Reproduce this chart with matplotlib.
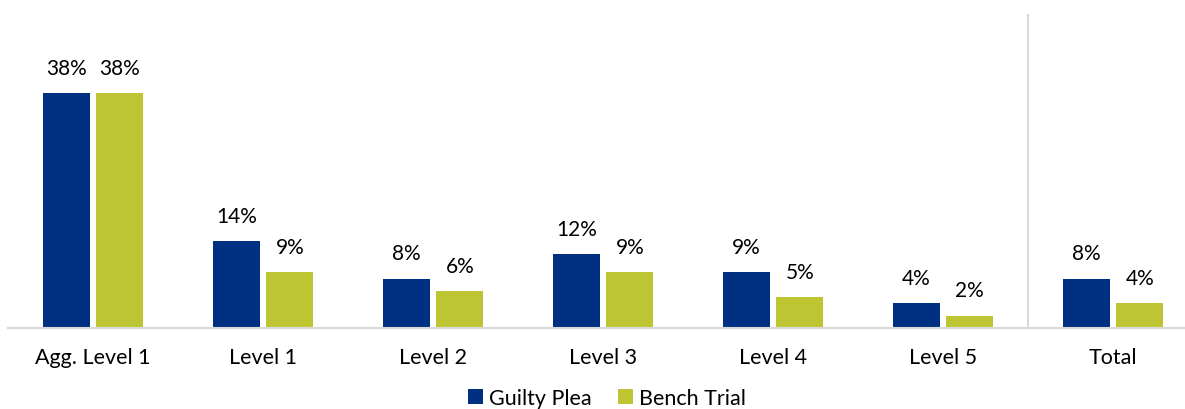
import matplotlib
matplotlib.use("Agg")
import matplotlib.pyplot as plt
import numpy as np

categories = ['Agg. Level 1', 'Level 1', 'Level 2', 'Level 3', 'Level 4', 'Level 5', 'Total']
guilty_plea = [38, 14, 8, 12, 9, 4, 8]
bench_trial = [38, 9, 6, 9, 5, 2, 4]
series_names = ['Guilty Plea', 'Bench Trial']

BLUE = '#003082'
GREEN = '#BDC632'
GRAY = '#D9D9D9'

plt.rcParams['font.family'] = ['Lato', 'DejaVu Sans']

W, H = 1185, 410
fig = plt.figure(figsize=(W / 100, H / 100), dpi=100)
ax = fig.add_axes([8 / W, (H - 329) / H, 1177 / W, (329 - 15) / H])

x = np.arange(len(categories))
bw = 0.275
gap = 0.04
b1 = ax.bar(x - (bw + gap) / 2, guilty_plea, bw, color=BLUE, label=series_names[0])
b2 = ax.bar(x + (bw + gap) / 2, bench_trial, bw, color=GREEN, label=series_names[1])

for bars, vals in ((b1, guilty_plea), (b2, bench_trial)):
    for rect, v in zip(bars, vals):
        ax.annotate(f'{v}%', (rect.get_x() + rect.get_width() / 2, v),
                    xytext=(0, 11), textcoords='offset points',
                    ha='center', va='bottom', fontsize=15)

ax.set_xlim(-0.5, -0.5 + 1177 / 170)
ax.set_ylim(0, 314 / 6.18)
ax.axvline(5.5, color=GRAY, linewidth=1.5)

ax.set_xticks(x)
ax.set_xticklabels(categories, fontsize=15.5)
ax.tick_params(axis='x', length=0, pad=14)
ax.set_yticks([])
for s in ['top', 'right', 'left']:
    ax.spines[s].set_visible(False)
ax.spines['bottom'].set_color(GRAY)
ax.spines['bottom'].set_linewidth(1.5)

fig.legend(loc='lower center', bbox_to_anchor=(0.512, -0.035), ncol=2, frameon=False,
           fontsize=15.5, handlelength=0.7, handleheight=0.7, handletextpad=0.3,
           columnspacing=1.2, borderpad=0.2)

fig.savefig('out.png', dpi=100)
